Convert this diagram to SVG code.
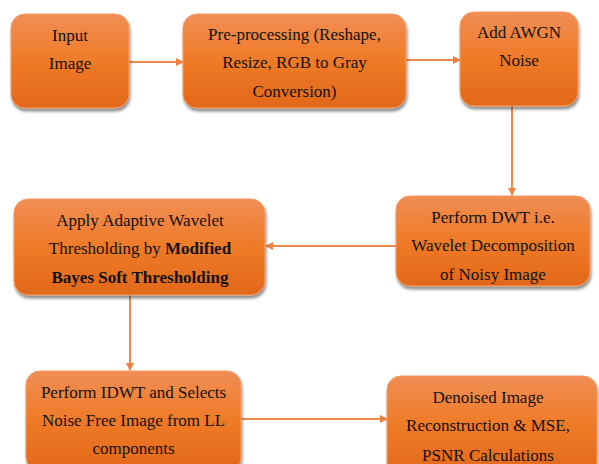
<svg xmlns="http://www.w3.org/2000/svg" width="599" height="464" viewBox="0 0 599 464">
<defs>
<linearGradient id="g" x1="0" y1="0" x2="0" y2="1">
<stop offset="0" stop-color="#F08E55"/>
<stop offset="0.5" stop-color="#EF7A26"/>
<stop offset="1" stop-color="#E2681A"/>
</linearGradient>
<filter id="sh" x="-10%" y="-10%" width="120%" height="130%">
<feGaussianBlur in="SourceAlpha" stdDeviation="1.5"/>
<feOffset dx="1" dy="3" result="b"/>
<feComponentTransfer><feFuncA type="linear" slope="0.45"/></feComponentTransfer>
<feMerge><feMergeNode/><feMergeNode in="SourceGraphic"/></feMerge>
</filter>
<marker id="ah" markerWidth="8" markerHeight="8" refX="7" refY="4" orient="auto" markerUnits="userSpaceOnUse">
<path d="M0,0 L8,4 L0,8 z" fill="#EE8040"/>
</marker>
</defs>
<style>
.box{fill:url(#g);stroke:#F39A62;stroke-width:1;filter:url(#sh)}
text{font-family:'Liberation Serif','Times New Roman',serif;font-size:17px;fill:#111;text-anchor:middle}
.b{font-weight:bold}
.c{stroke:#EE8A4E;stroke-width:2;fill:none;marker-end:url(#ah)}
</style>
<rect width="599" height="464" fill="#fff"/>
<g id="connectors">
<line class="c" x1="129" y1="62" x2="183" y2="62"/>
<line class="c" x1="406" y1="60" x2="460" y2="60"/>
<line class="c" x1="512" y1="106" x2="512" y2="195"/>
<line class="c" x1="396" y1="246" x2="266" y2="246"/>
<line class="c" x1="130" y1="295" x2="130" y2="370"/>
<line class="c" x1="241" y1="419" x2="387" y2="419"/>
</g>
<g id="n1">
<rect class="box" x="11" y="14" width="118" height="94" rx="14"/>
<text x="70" y="41">Input</text>
<text x="70" y="69">Image</text>
</g>
<g id="n2">
<rect class="box" x="183" y="14" width="223" height="94" rx="14"/>
<text x="294.5" y="40">Pre-processing (Reshape,</text>
<text x="294.5" y="68">Resize, RGB to Gray</text>
<text x="294.5" y="97">Conversion)</text>
</g>
<g id="n3">
<rect class="box" x="460" y="12" width="118" height="94" rx="14"/>
<text x="519" y="38">Add AWGN</text>
<text x="519" y="66">Noise</text>
</g>
<g id="n4">
<rect class="box" x="396" y="196" width="194" height="90" rx="14"/>
<text x="493" y="223">Perform DWT i.e.</text>
<text x="493" y="251">Wavelet Decomposition</text>
<text x="493" y="280">of Noisy Image</text>
</g>
<g id="n5">
<rect class="box" x="14" y="199" width="251" height="96" rx="14"/>
<text x="140" y="226">Apply Adaptive Wavelet</text>
<text x="140" y="254">Thresholding by <tspan class="b">Modified</tspan></text>
<text class="b" x="140" y="283">Bayes Soft Thresholding</text>
</g>
<g id="n6">
<rect class="box" x="26" y="371" width="215" height="100" rx="14"/>
<text x="133.5" y="398">Perform IDWT and Selects</text>
<text x="133.5" y="426">Noise Free Image from LL</text>
<text x="133.5" y="454">components</text>
</g>
<g id="n7">
<rect class="box" x="387" y="376" width="210" height="100" rx="14"/>
<text x="488" y="403">Denoised Image</text>
<text x="488" y="431">Reconstruction &amp; MSE,</text>
<text x="488" y="461">PSNR Calculations</text>
</g>
</svg>
